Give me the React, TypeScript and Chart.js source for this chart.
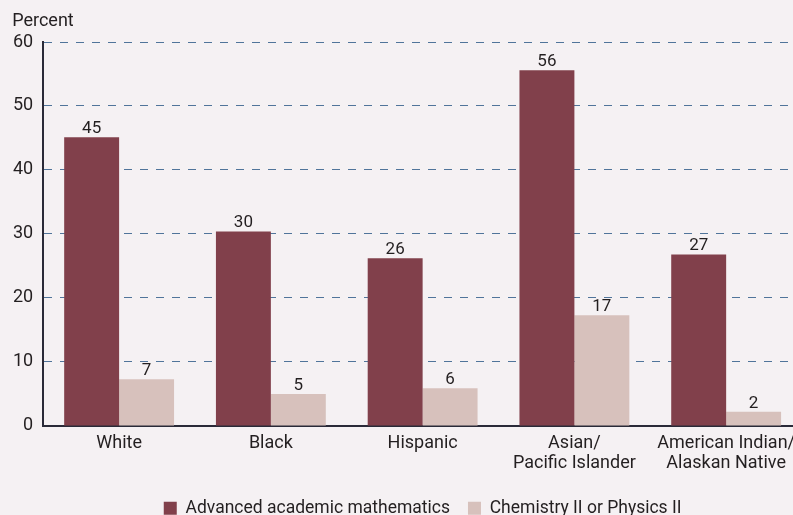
import React, { useEffect, useRef } from "react";
import { Chart, registerables } from "chart.js";

Chart.register(...registerables);

const categories: (string | string[])[] = [
  "White",
  "Black",
  "Hispanic",
  ["Asian/", "Pacific Islander"],
  ["American Indian/", "Alaskan Native"],
];
const mathValues = [45.1, 30.4, 26.2, 55.6, 26.8];
const chemValues = [7.3, 5.0, 5.9, 17.3, 2.2];
const seriesNames = ["Advanced academic mathematics", "Chemistry II or Physics II"];
const yTicks = { min: 0, max: 60, step: 10 };
const yTitle = "Percent";

const BG = "#f5f1f3";
const MAROON = "#81404b";
const TAN = "#d7c1bc";
const TEXT = "#231f20";
const FONT = "Roboto, 'Open Sans', sans-serif";

const bgPlugin = {
  id: "bg",
  beforeDraw(chart: any) {
    const { ctx, width, height } = chart;
    ctx.save();
    ctx.fillStyle = BG;
    ctx.fillRect(0, 0, width, height);
    ctx.restore();
  },
};

const unitLabel = {
  id: "unitLabel",
  afterDraw(chart: any) {
    const { ctx, chartArea } = chart;
    ctx.save();
    ctx.font = `18px ${FONT}`;
    ctx.fillStyle = TEXT;
    ctx.textAlign = "left";
    ctx.textBaseline = "alphabetic";
    ctx.fillText(yTitle, chartArea.left - 31, chartArea.top - 16);
    ctx.restore();
  },
};

const valueLabels = {
  id: "valueLabels",
  afterDatasetsDraw(chart: any) {
    const { ctx } = chart;
    ctx.save();
    ctx.font = `17px ${FONT}`;
    ctx.fillStyle = TEXT;
    ctx.textAlign = "center";
    ctx.textBaseline = "alphabetic";
    chart.data.datasets.forEach((ds: any, di: number) => {
      const meta = chart.getDatasetMeta(di);
      meta.data.forEach((bar: any, i: number) => {
        ctx.fillText(String(Math.round(ds.data[i])), bar.x, bar.y - 4);
      });
    });
    ctx.restore();
  },
};

export default function App() {
  const ref = useRef<HTMLCanvasElement | null>(null);
  useEffect(() => {
    if (!ref.current) return;
    const chart = new Chart(ref.current, {
      type: "bar",
      data: {
        labels: categories,
        datasets: [
          {
            label: seriesNames[0],
            data: mathValues,
            backgroundColor: MAROON,
            barPercentage: 1,
            categoryPercentage: 0.724,
          },
          {
            label: seriesNames[1],
            data: chemValues,
            backgroundColor: TAN,
            barPercentage: 1,
            categoryPercentage: 0.724,
          },
        ],
      },
      options: {
        responsive: false,
        animation: false,
        layout: { padding: { left: 3, right: 0, top: 42, bottom: 0 } },
        plugins: {
          title: { display: false },
          legend: {
            position: "bottom",
            fullSize: false,
            labels: {
              boxWidth: 13,
              boxHeight: 13,
              padding: 18,
              color: TEXT,
              font: { family: FONT, size: 17.5 },
            },
          },
          tooltip: { enabled: false },
        },
        scales: {
          x: {
            grid: { display: false, drawTicks: false },
            border: { display: true, color: "#2a2a38", width: 2 },
            ticks: {
              color: TEXT,
              font: { family: FONT, size: 18, lineHeight: 1.1 },
              padding: 8,
              maxRotation: 0,
              autoSkip: false,
            },
          },
          y: {
            min: yTicks.min,
            max: yTicks.max,
            grid: {
              drawTicks: false,
              color: (c: any) => (c.tick && c.tick.value === 0 ? "rgba(0,0,0,0)" : "#50749a"),
              lineWidth: 1,
            },
            border: { display: true, color: "#2a2a38", width: 2, dash: [8, 8] },
            ticks: {
              stepSize: yTicks.step,
              color: TEXT,
              font: { family: FONT, size: 18 },
              padding: 10,
            },
          },
        },
      },
      plugins: [bgPlugin, valueLabels, unitLabel],
    } as any);
    return () => chart.destroy();
  }, []);
  return (
    <div
      style={{
        position: "fixed",
        left: 0,
        top: 0,
        width: 793,
        height: 515,
        overflow: "hidden",
        background: BG,
      }}
    >
      <canvas ref={ref} width={803} height={527} style={{ display: "block" }} />
    </div>
  );
}
